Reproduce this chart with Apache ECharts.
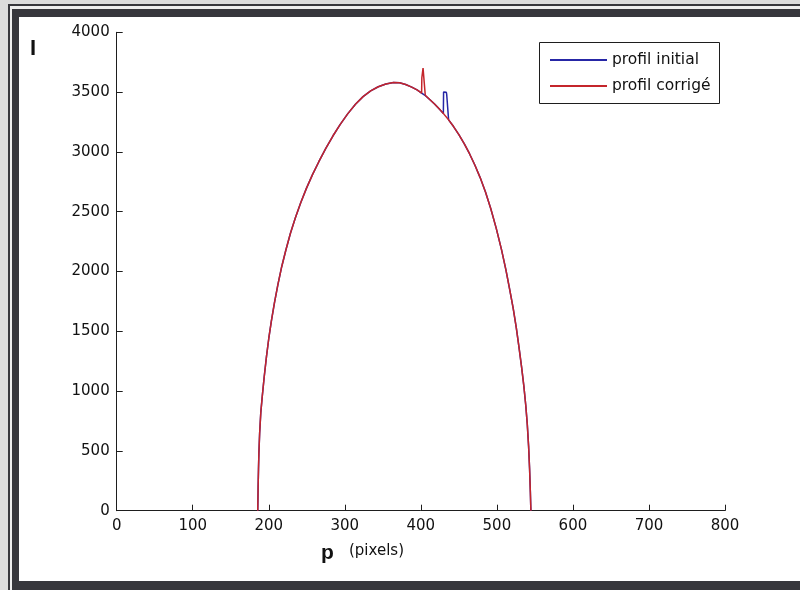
<!DOCTYPE html>
<html>
<head>
<meta charset="utf-8">
<script src="https://cdn.jsdelivr.net/npm/echarts@6/dist/echarts.min.js"></script>
<style>
  html, body { margin: 0; padding: 0; background: #ffffff; }
  #chart { width: 800px; height: 590px; }
</style>
</head>
<body>
<div id="chart"></div>
<script>
// ---- Data ----
const xTicks = [0, 100, 200, 300, 400, 500, 600, 700, 800];
const yTicks = [0, 500, 1000, 1500, 2000, 2500, 3000, 3500, 4000];

// shared rising part of the profile (pixel p, intensity I)
const leftP = [185.5, 186.0, 186.5, 187.0, 188.0, 189.5, 191.5, 194.0, 197.0, 200.0, 203.5, 207.5, 212.0, 217.0, 222.5, 228.5, 235.0, 242.0, 249.5, 257.5, 266.0, 275.0, 284.5, 294.0, 304.0, 314.0, 324.0, 334.0, 344.0, 354.0, 364.0, 372.0, 380.0, 388.0, 395.0, 401.0];
const leftI = [0, 200, 350, 480, 650, 820, 960, 1120, 1290, 1440, 1590, 1740, 1890, 2040, 2180, 2320, 2450, 2575, 2695, 2810, 2920, 3030, 3135, 3230, 3320, 3398, 3462, 3510, 3545, 3568, 3580, 3578, 3564, 3542, 3518, 3492];

// section near the artefacts – initial profile (spike near p≈432)
const initialMidP = [406.0, 412.0, 418.0, 424.0, 429.6, 429.9, 433.5, 434.0, 436.2, 436.5];
const initialMidI = [3470, 3436, 3400, 3360, 3322, 3500, 3498, 3480, 3478, 3268];

// section near the artefacts – corrected profile (spike near p≈403)
const correctedMidP = [401.3, 402.6, 402.9, 404.6, 405.8, 412.0, 418.0, 424.0, 430.0, 436.5];
const correctedMidI = [3620, 3620, 3700, 3700, 3474, 3436, 3400, 3360, 3318, 3268];

// shared falling part of the profile
const rightP = [443.0, 450.0, 457.0, 464.0, 471.0, 478.0, 485.0, 492.0, 499.0, 506.0, 512.0, 517.0, 521.5, 525.5, 529.0, 532.5, 535.5, 538.0, 540.0, 541.7, 543.0, 544.0, 544.7];
const rightI = [3212, 3145, 3070, 2985, 2890, 2785, 2665, 2525, 2365, 2185, 2010, 1845, 1690, 1530, 1370, 1200, 1040, 880, 720, 540, 350, 160, 0];

const seriesNames = ['profil initial', 'profil corrigé'];

function pairs(ps, is) { return ps.map((p, k) => [p, is[k]]); }
const initialData = pairs(leftP, leftI).concat(pairs(initialMidP, initialMidI), pairs(rightP, rightI));
const correctedData = pairs(leftP, leftI).concat(pairs(correctedMidP, correctedMidI), pairs(rightP, rightI));

// ---- Chart ----
const FONT = '"DejaVu Sans", Verdana, sans-serif';
const DARK = '#37373c';
const chart = echarts.init(document.getElementById('chart'), null, { renderer: 'canvas' });

const option = {
  backgroundColor: '#ffffff',
  animation: false,
  textStyle: { fontFamily: FONT },
  grid: { left: 116.7, right: 75, top: 32.3, bottom: 79.3, containLabel: false },
  xAxis: {
    type: 'value', min: xTicks[0], max: xTicks[xTicks.length - 1], interval: 100,
    axisLine: { show: true, onZero: false, lineStyle: { color: '#1e1e1e', width: 1 } },
    axisTick: { show: true, inside: true, length: 6, lineStyle: { color: '#1e1e1e' } },
    axisLabel: { color: '#111', fontSize: 15, fontFamily: FONT, margin: 8, formatter: v => String(v) },
    splitLine: { show: false }
  },
  yAxis: {
    type: 'value', min: yTicks[0], max: yTicks[yTicks.length - 1], interval: 500,
    axisLine: { show: true, onZero: false, lineStyle: { color: '#1e1e1e', width: 1 } },
    axisTick: { show: true, inside: true, length: 6, lineStyle: { color: '#1e1e1e' } },
    axisLabel: { color: '#111', fontSize: 15, fontFamily: FONT, margin: 7, formatter: v => String(v) },
    splitLine: { show: false }
  },
  legend: {
    orient: 'vertical', left: 550, top: 52, itemGap: 10, padding: 0,
    itemWidth: 57, itemHeight: 2, icon: 'rect',
    textStyle: { fontSize: 15.5, color: '#111', fontFamily: FONT, padding: [0, 0, 0, 0] },
    data: seriesNames
  },
  series: [
    {
      name: seriesNames[0], type: 'line', data: initialData, showSymbol: false,
      lineStyle: { color: '#2626a6', width: 1.5 }, itemStyle: { color: '#2626a6' }, z: 2
    },
    {
      name: seriesNames[1], type: 'line', data: correctedData, showSymbol: false,
      lineStyle: { color: '#c4252b', width: 1.5 }, itemStyle: { color: '#c4252b' }, z: 3
    }
  ],
  graphic: [
    // outer light strips
    { type: 'rect', shape: { x: 0, y: 0, width: 800, height: 4 }, style: { fill: '#dcdcdc' }, z: -10 },
    { type: 'rect', shape: { x: 0, y: 0, width: 8, height: 590 }, style: { fill: '#dcdcdc' }, z: -10 },
    // thin dark line
    { type: 'rect', shape: { x: 8, y: 4, width: 792, height: 2 }, style: { fill: DARK }, z: -9 },
    { type: 'rect', shape: { x: 8, y: 4, width: 2, height: 586 }, style: { fill: DARK }, z: -9 },
    // light gap
    { type: 'rect', shape: { x: 10, y: 6, width: 790, height: 3 }, style: { fill: '#eeeeee' }, z: -9 },
    { type: 'rect', shape: { x: 10, y: 6, width: 2, height: 584 }, style: { fill: '#eeeeee' }, z: -9 },
    // thick dark frame
    { type: 'rect', shape: { x: 12, y: 9, width: 788, height: 8 }, style: { fill: DARK }, z: -8 },
    { type: 'rect', shape: { x: 12, y: 9, width: 7, height: 581 }, style: { fill: DARK }, z: -8 },
    { type: 'rect', shape: { x: 12, y: 581, width: 788, height: 9 }, style: { fill: DARK }, z: -8 },
    // legend box
    { type: 'rect', shape: { x: 539.5, y: 42.5, width: 180, height: 61 },
      style: { fill: '#ffffff', stroke: '#1e1e1e', lineWidth: 1 }, z: 1 },
    // axis names
    { type: 'text', x: 30, y: 38, style: { text: 'I', font: 'bold 22px "Liberation Sans", Arial, sans-serif', fill: '#111' }, z: 5 },
    { type: 'text', x: 321, y: 543, style: { text: 'p', font: 'bold 21px "Liberation Sans", Arial, sans-serif', fill: '#111' }, z: 5 },
    { type: 'text', x: 349, y: 544, style: { text: '(pixels)', font: '15px ' + FONT, fill: '#111' }, z: 5 }
  ]
};
chart.setOption(option);
</script>
</body>
</html>
